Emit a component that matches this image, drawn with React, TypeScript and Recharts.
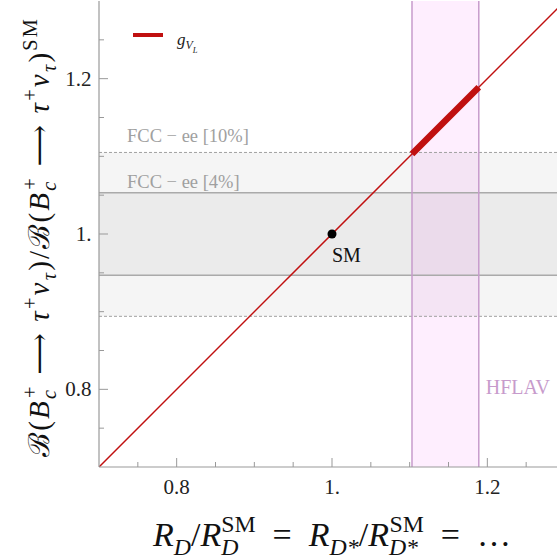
import React from 'react';
import {
  ComposedChart,
  Line,
  XAxis,
  YAxis,
  ReferenceArea,
  ReferenceLine,
  ReferenceDot,
  Legend,
  Label,
} from 'recharts';

// ---------- data ----------
const xDomain = [0.7, 1.3];
const yDomain = [0.7, 1.3];
const xTicks = [0.75, 0.8, 0.85, 0.9, 0.95, 1.0, 1.05, 1.1, 1.15, 1.2, 1.25];
const yTicks = [0.75, 0.8, 0.85, 0.9, 0.95, 1.0, 1.05, 1.1, 1.15, 1.2, 1.25];
const majorTicks = [0.8, 1.0, 1.2];
const majorTickLabels = ['0.8', '1.', '1.2'];

// g_{V_L} trajectory (full range) and the HFLAV-allowed part
const gVLLine = [
  { x: 0.7, y: 0.7 },
  { x: 1.3, y: 1.3 },
];
const gVLAllowed = [
  { x: 1.103, y: 1.103 },
  { x: 1.189, y: 1.189 },
];
const hflavRange = [1.103, 1.189];
const fcc10Range = [0.894, 1.105];
const fcc4Range = [0.947, 1.053];
const smPoint = { x: 1, y: 1 };

const legendLabel = 'gVL';
const fcc10Label = 'FCC − ee [10%]';
const fcc4Label = 'FCC − ee [4%]';
const hflavLabel = 'HFLAV';
const smLabel = 'SM';

// ---------- styles ----------
const FONT = "'Liberation Serif', 'Times New Roman', 'DejaVu Serif', serif";
const W = 566;
const H = 558;
const RED = '#c01010';
const AXIS = '#999999';
const PURPLE = '#c79bcc';

type Seg = { t: string; i?: boolean; s?: 'sub' | 'sup' | 'subsub'; back?: number };

function mathTspans(segs: Seg[], size: number) {
  let cur = 0;
  return segs.map((g, k) => {
    const off =
      g.s === 'sub' ? 0.25 * size : g.s === 'sup' ? -0.42 * size : g.s === 'subsub' ? 0.45 * size : 0;
    const fs = g.s === 'subsub' ? 0.5 * size : g.s ? 0.7 * size : size;
    const dy = off - cur;
    cur = off;
    return (
      <tspan
        key={k}
        dy={dy}
        dx={g.back ? -g.back * fs : undefined}
        style={{ fontSize: fs, fontStyle: g.i ? 'italic' : 'normal' }}
      >
        {g.t}
      </tspan>
    );
  });
}

const xTitle: Seg[] = [
  { t: 'R', i: true },
  { t: 'D', i: true, s: 'sub' },
  { t: '/' },
  { t: 'R', i: true },
  { t: 'D', i: true, s: 'sub' },
  { t: 'SM', s: 'sup', back: 0.72 },
  { t: '  =  ' },
  { t: 'R', i: true },
  { t: 'D*', i: true, s: 'sub' },
  { t: '/' },
  { t: 'R', i: true },
  { t: 'D*', i: true, s: 'sub' },
  { t: 'SM', s: 'sup', back: 1.2 },
  { t: '  =  …' },
];

const yTitle: Seg[] = [
  { t: 'ℬ(' },
  { t: 'B', i: true },
  { t: 'c', i: true, s: 'sub' },
  { t: '+', s: 'sup', back: 0.5 },
  { t: ' ⟶ ' },
  { t: 'τ', i: true },
  { t: '+', s: 'sup' },
  { t: 'ν', i: true },
  { t: 'τ', i: true, s: 'sub' },
  { t: ')/ℬ(' },
  { t: 'B', i: true },
  { t: 'c', i: true, s: 'sub' },
  { t: '+', s: 'sup', back: 0.5 },
  { t: ' ⟶ ' },
  { t: 'τ', i: true },
  { t: '+', s: 'sup' },
  { t: 'ν', i: true },
  { t: 'τ', i: true, s: 'sub' },
  { t: ')' },
  { t: 'SM', s: 'sup' },
];

const legendSegs: Seg[] = [
  { t: legendLabel[0], i: true },
  { t: legendLabel[1], i: true, s: 'sub' },
  { t: legendLabel[2], i: true, s: 'subsub' },
];

const isMajor = (v: number) => majorTicks.findIndex((m) => Math.abs(m - v) < 1e-6);

const txt = (size: number, fill: string) => ({ fontFamily: FONT, fontSize: size, fill, whiteSpace: 'pre' as const });

const XTick = (props: any) => {
  const { x, y, payload } = props;
  const idx = isMajor(payload.value);
  return (
    <g>
      <line x1={x} x2={x} y1={y} y2={y - (idx >= 0 ? 9 : 5)} stroke={AXIS} strokeWidth={1} />
      {idx >= 0 && (
        <text x={x} y={y + 26.5} textAnchor="middle" style={txt(21, '#222')}>
          {majorTickLabels[idx]}
        </text>
      )}
    </g>
  );
};

const YTick = (props: any) => {
  const { x, y, payload } = props;
  const idx = isMajor(payload.value);
  return (
    <g>
      <line x1={x} x2={x + (idx >= 0 ? 9 : 5)} y1={y} y2={y} stroke={AXIS} strokeWidth={1} />
      {idx >= 0 && (
        <text x={x - 7.5} y={y + 7} textAnchor="end" style={txt(21, '#222')}>
          {majorTickLabels[idx]}
        </text>
      )}
    </g>
  );
};

export default function App() {
  return (
    <div
      style={{
        position: 'absolute',
        left: 0,
        top: 0,
        width: 557,
        height: 558,
        overflow: 'hidden',
        background: '#fff',
      }}
    >
      <ComposedChart width={W} height={H} margin={{ top: 1, right: 1, bottom: 0, left: 0 }}>
        <XAxis
          xAxisId="top"
          orientation="top"
          type="number"
          dataKey="x"
          domain={xDomain}
          allowDataOverflow
          height={0}
          tick={false}
          tickLine={false}
          axisLine={{ stroke: AXIS, strokeWidth: 1.2 }}
        />
        <XAxis
          type="number"
          dataKey="x"
          domain={xDomain}
          allowDataOverflow
          ticks={xTicks}
          interval={0}
          tickSize={0}
          tickMargin={0}
          tickLine={false}
          tick={<XTick />}
          height={91}
          axisLine={{ stroke: AXIS, strokeWidth: 1.2 }}
        >
          <Label
            content={(p: any) => {
              const vb = p.viewBox || { x: 99, y: 467, width: 466 };
              return (
                <text x={vb.x + vb.width / 2} y={546} textAnchor="middle" style={txt(34, '#111')}>
                  {mathTspans(xTitle, 34)}
                </text>
              );
            }}
          />
        </XAxis>
        <YAxis
          type="number"
          domain={yDomain}
          allowDataOverflow
          ticks={yTicks}
          interval={0}
          tickSize={0}
          tickMargin={0}
          tickLine={false}
          tick={<YTick />}
          width={99}
          axisLine={{ stroke: AXIS, strokeWidth: 1.2 }}
        >
          <Label
            content={(p: any) => {
              const vb = p.viewBox || { x: 0, y: 1, width: 99, height: 466 };
              const cx = 49;
              const cy = vb.y + vb.height / 2 + 3;
              return (
                <text
                  x={cx}
                  y={cy}
                  textAnchor="middle"
                  style={{ ...txt(29, '#111'), letterSpacing: '2.2px' }}
                  transform={`rotate(-90 ${cx} ${cy})`}
                >
                  {mathTspans(yTitle, 29)}
                </text>
              );
            }}
          />
        </YAxis>

        {/* FCC-ee bands */}
        <ReferenceArea y1={fcc10Range[0]} y2={fcc10Range[1]} fill="#000" fillOpacity={0.04} stroke="none" />
        <ReferenceArea y1={fcc4Range[0]} y2={fcc4Range[1]} fill="#000" fillOpacity={0.04} stroke="none" />
        <ReferenceLine
          y={fcc10Range[1]}
          stroke="#a0a0a0"
          strokeDasharray="3 2"
          strokeWidth={1}
          label={(p: any) => (
            <text x={p.viewBox.x + 28} y={p.viewBox.y - 10} style={txt(18.5, '#a0a0a0')}>
              {fcc10Label}
            </text>
          )}
        />
        <ReferenceLine y={fcc10Range[0]} stroke="#a0a0a0" strokeDasharray="3 2" strokeWidth={1} />
        <ReferenceLine
          y={fcc4Range[1]}
          stroke="#aaaaaa"
          strokeWidth={1.5}
          label={(p: any) => (
            <text x={p.viewBox.x + 28} y={p.viewBox.y - 5} style={txt(18.5, '#a0a0a0')}>
              {fcc4Label}
            </text>
          )}
        />
        <ReferenceLine y={fcc4Range[0]} stroke="#aaaaaa" strokeWidth={1.5} />

        {/* HFLAV band */}
        <ReferenceArea
          x1={hflavRange[0]}
          x2={hflavRange[1]}
          fill="#f020f0"
          fillOpacity={0.08}
          stroke="none"
          label={(p: any) => (
            <text
              x={p.viewBox.x + p.viewBox.width + 7}
              y={p.viewBox.y + p.viewBox.height - 73}
              style={txt(20, PURPLE)}
            >
              {hflavLabel}
            </text>
          )}
        />
        <ReferenceLine x={hflavRange[0]} stroke={PURPLE} strokeWidth={1.5} />
        <ReferenceLine x={hflavRange[1]} stroke={PURPLE} strokeWidth={1.5} />

        <Line
          data={gVLLine}
          dataKey="y"
          stroke={RED}
          strokeWidth={1.5}
          dot={false}
          activeDot={false}
          isAnimationActive={false}
          legendType="none"
        />
        <Line
          data={gVLAllowed}
          dataKey="y"
          stroke={RED}
          strokeWidth={6.5}
          dot={false}
          activeDot={false}
          isAnimationActive={false}
          legendType="none"
        />

        <ReferenceDot
          x={smPoint.x}
          y={smPoint.y}
          r={4.5}
          fill="#000"
          stroke="none"
          label={(p: any) => {
            const vb = p.viewBox;
            const cx = vb.x + vb.width / 2;
            const cy = vb.y + vb.height / 2;
            return (
              <text x={cx} y={cy + 28} style={txt(20, '#111')}>
                {smLabel}
              </text>
            );
          }}
        />

        <Legend
          layout="horizontal"
          verticalAlign="middle"
          align="center"
          wrapperStyle={{ top: 20, left: 128, width: 90, height: 36 }}
          content={() => (
            <svg width={90} height={36}>
              <line x1={5} x2={35} y1={15} y2={15} stroke={RED} strokeWidth={4} />
              <text x={49} y={25} style={txt(17, '#222')}>
                {mathTspans(legendSegs, 17)}
              </text>
            </svg>
          )}
        />
      </ComposedChart>
    </div>
  );
}
